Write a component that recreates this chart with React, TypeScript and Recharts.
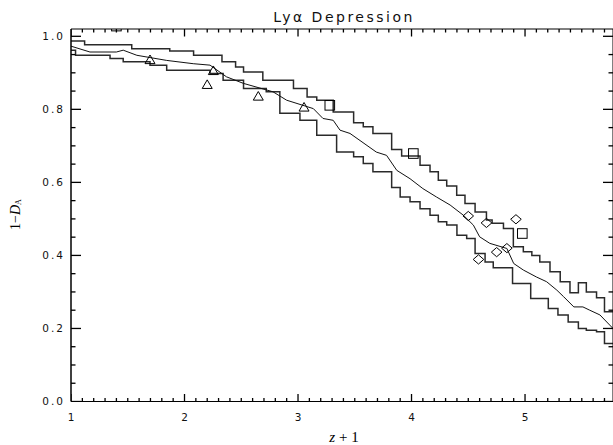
import React from 'react';
import { ComposedChart, Line, Scatter, XAxis, YAxis } from 'recharts';

// ---------- data ----------
const upperBand: [number, number][] = [
  [1.0, 0.987], [1.12, 0.977], [1.535, 0.966], [1.87, 0.96], [2.08, 0.948], [2.33, 0.93],
  [2.45, 0.916], [2.52, 0.902], [2.69, 0.88], [2.96, 0.857], [3.08, 0.834], [3.165, 0.825],
  [3.31, 0.793], [3.49, 0.763], [3.575, 0.752], [3.66, 0.734], [3.825, 0.69], [3.913, 0.672],
  [4.075, 0.647], [4.163, 0.629], [4.236, 0.606], [4.31, 0.59], [4.398, 0.565], [4.471, 0.542],
  [4.56, 0.519], [4.66, 0.497], [4.71, 0.488], [4.81, 0.474], [4.897, 0.424], [4.985, 0.41],
  [5.06, 0.4], [5.13, 0.382], [5.22, 0.355], [5.31, 0.328], [5.396, 0.298], [5.47, 0.325],
  [5.54, 0.3], [5.63, 0.284], [5.7, 0.246], [5.775, 0.246],
];

const lowerBand: [number, number][] = [
  [1.0, 0.962], [1.04, 0.948], [1.344, 0.939], [1.46, 0.93], [1.696, 0.921], [1.843, 0.907],
  [2.225, 0.898], [2.34, 0.88], [2.52, 0.857], [2.72, 0.848], [2.84, 0.789], [3.017, 0.77],
  [3.165, 0.729], [3.34, 0.683], [3.49, 0.67], [3.575, 0.652], [3.66, 0.629], [3.825, 0.586],
  [3.9, 0.56], [3.987, 0.547], [4.075, 0.528], [4.163, 0.51], [4.236, 0.492], [4.31, 0.483],
  [4.4, 0.455], [4.486, 0.446], [4.56, 0.405], [4.648, 0.382], [4.72, 0.366], [4.89, 0.323],
  [5.05, 0.282], [5.205, 0.255], [5.29, 0.237], [5.38, 0.218], [5.47, 0.2], [5.54, 0.195],
  [5.63, 0.191], [5.7, 0.159], [5.775, 0.159],
];

const meanCurve: [number, number][] = [
  [1.0, 0.973], [1.167, 0.957], [1.4, 0.957], [1.46, 0.962], [1.58, 0.948], [1.843, 0.934],
  [2.077, 0.925], [2.225, 0.921], [2.37, 0.889], [2.52, 0.871], [2.78, 0.848], [2.9, 0.825],
  [3.135, 0.802], [3.22, 0.775], [3.31, 0.77], [3.37, 0.743], [3.458, 0.734], [3.69, 0.683],
  [3.78, 0.674], [3.87, 0.633], [3.987, 0.61], [4.1, 0.583], [4.22, 0.56], [4.34, 0.538],
  [4.457, 0.51], [4.545, 0.483], [4.6, 0.451], [4.69, 0.433], [4.84, 0.419], [4.9, 0.378],
  [4.985, 0.36], [5.1, 0.341], [5.19, 0.328], [5.28, 0.305], [5.34, 0.287], [5.43, 0.259],
  [5.51, 0.259], [5.57, 0.25], [5.66, 0.237], [5.775, 0.2],
];

const triangles: [number, number][] = [
  [1.696, 0.937], [2.2, 0.869], [2.254, 0.907], [2.65, 0.837], [3.053, 0.807],
];
const squares: [number, number][] = [
  [1.4, 1.028], [3.28, 0.811], [4.016, 0.679], [4.976, 0.46],
];
const diamonds: [number, number][] = [
  [4.5, 0.508], [4.59, 0.389], [4.66, 0.489], [4.75, 0.409], [4.84, 0.42], [4.92, 0.499],
];

const xMajorLabels = [1, 2, 3, 4, 5];
const yMajorLabels = [0, 0.2, 0.4, 0.6, 0.8, 1.0];
const X_DOMAIN: [number, number] = [1, 5.775];
const Y_DOMAIN: [number, number] = [0, 1.02];

// tick positions (major + minor)
const xTicks: number[] = [];
for (let i = 0; i <= 47; i++) xTicks.push(Math.round((1 + i * 0.1) * 10) / 10);
const yTicks: number[] = [];
for (let i = 0; i <= 20; i++) yTicks.push(Math.round(i * 0.05 * 100) / 100);

const isXMajor = (v: number) => xMajorLabels.some((m) => Math.abs(m - v) < 1e-6);
const isYMajor = (v: number) => yMajorLabels.some((m) => Math.abs(m - v) < 1e-6);
const xMinorTicks = xTicks.filter((v) => !isXMajor(v));
const yMinorTicks = yTicks.filter((v) => !isYMajor(v));

const toPts = (arr: [number, number][]) => arr.map(([x, y]) => ({ x, y }));
const onBottom = (vals: number[]) => vals.map((v) => ({ x: v, y: Y_DOMAIN[0] }));
const onTop = (vals: number[]) => vals.map((v) => ({ x: v, y: Y_DOMAIN[1] }));
const onLeft = (vals: number[]) => vals.map((v) => ({ x: X_DOMAIN[0], y: v }));
const onRight = (vals: number[]) => vals.map((v) => ({ x: X_DOMAIN[1], y: v }));

// ---------- styling ----------
const TICK_FONT = '"DejaVu Sans", sans-serif';
const X_MAJOR = 7.5, X_MINOR = 3.5, Y_MAJOR = 10, Y_MINOR = 4.5;
const TW = 1.3;
const BOTTOM_MARGIN = 12;
const LEFT_MARGIN = 6;

const BottomLabel = (props: any) => {
  const { x, y, payload } = props;
  const v = payload.value;
  if (!isXMajor(v)) return <g />;
  return (
    <text x={x + 1} y={y - BOTTOM_MARGIN + 19.5} textAnchor="middle" fontFamily={TICK_FONT} fontSize={10.5} letterSpacing={2} fill="#111">
      {String(v)}
    </text>
  );
};

const LeftLabel = (props: any) => {
  const { x, y, payload } = props;
  const v = payload.value;
  if (!isYMajor(v)) return <g />;
  return (
    <text x={x} y={y} dy="0.36em" textAnchor="end" fontFamily={TICK_FONT} fontSize={10.5} letterSpacing={2} fill="#111">
      {v.toFixed(1)}
    </text>
  );
};

// inward tick marks drawn at scale-placed anchor points
const upMark = (len: number) => (p: any) => (
  <rect x={p.cx - TW / 2} y={p.cy - len} width={TW} height={len} fill="#000" />
);
const downMark = (len: number) => (p: any) => (
  <rect x={p.cx - TW / 2} y={p.cy} width={TW} height={len} fill="#000" />
);
const rightwardMark = (len: number) => (p: any) => (
  <rect x={p.cx} y={p.cy - TW / 2} width={len} height={TW} fill="#000" />
);
const leftwardMark = (len: number) => (p: any) => (
  <rect x={p.cx - len} y={p.cy - TW / 2} width={len} height={TW} fill="#000" />
);

const Triangle = (p: any) => (
  <polygon points={`${p.cx - 5},${p.cy + 4.3} ${p.cx},${p.cy - 4.3} ${p.cx + 5},${p.cy + 4.3}`} fill="none" stroke="#000" strokeWidth={1} />
);
const Square = (p: any) => (
  <rect x={p.cx - 4.8} y={p.cy - 4.8} width={9.6} height={9.6} fill="none" stroke="#000" strokeWidth={1} />
);
const Diamond = (p: any) => (
  <polygon points={`${p.cx - 5.3},${p.cy} ${p.cx},${p.cy - 4.6} ${p.cx + 5.3},${p.cy} ${p.cx},${p.cy + 4.6}`} fill="none" stroke="#000" strokeWidth={1} />
);

const common = { xAxisId: 'b', yAxisId: 'l', isAnimationActive: false } as const;

export default function App() {
  return (
    <div style={{ position: 'absolute', left: 0, top: 0, width: 613, height: 445, background: '#fff' }}>
      <ComposedChart width={614} height={445} margin={{ top: 28, right: 0, bottom: 13.5, left: 0 }}>
        <XAxis
          xAxisId="b" type="number" dataKey="x" domain={X_DOMAIN} allowDataOverflow
          ticks={xTicks} interval={0} tickSize={0} tickMargin={BOTTOM_MARGIN} height={30}
          tick={<BottomLabel />} tickLine={false} axisLine={{ stroke: '#000', strokeWidth: 1.2 }}
        />
        <XAxis
          xAxisId="t" orientation="top" type="number" dataKey="x" domain={X_DOMAIN} allowDataOverflow
          ticks={xMajorLabels} tickSize={0} height={1} tick={false} tickLine={false}
          axisLine={{ stroke: '#000', strokeWidth: 1 }}
        />
        <YAxis
          yAxisId="l" type="number" dataKey="y" domain={Y_DOMAIN} allowDataOverflow
          ticks={yTicks} interval={0} tickSize={0} tickMargin={LEFT_MARGIN} width={71}
          tick={<LeftLabel />} tickLine={false} axisLine={{ stroke: '#000', strokeWidth: 1.5 }}
        />
        <YAxis
          yAxisId="r" orientation="right" type="number" dataKey="y" domain={Y_DOMAIN} allowDataOverflow
          ticks={yMajorLabels} tickSize={0} width={1} tick={false} tickLine={false}
          axisLine={{ stroke: '#000', strokeWidth: 1 }}
        />
        <Line {...common} data={toPts(upperBand)} dataKey="y" type="stepAfter" stroke="#2a2a2a" strokeWidth={1.5} dot={false} activeDot={false} />
        <Line {...common} data={toPts(lowerBand)} dataKey="y" type="stepAfter" stroke="#2a2a2a" strokeWidth={1.5} dot={false} activeDot={false} />
        <Line {...common} data={toPts(meanCurve)} dataKey="y" type="linear" stroke="#111" strokeWidth={1} dot={false} activeDot={false} />
        <Scatter {...common} data={toPts(triangles)} dataKey="y" shape={Triangle} />
        <Scatter {...common} data={toPts(squares)} dataKey="y" shape={Square} />
        <Scatter {...common} data={toPts(diamonds)} dataKey="y" shape={Diamond} />
        <Scatter {...common} data={onBottom(xMajorLabels)} dataKey="y" shape={upMark(X_MAJOR)} />
        <Scatter {...common} data={onBottom(xMinorTicks)} dataKey="y" shape={upMark(X_MINOR)} />
        <Scatter {...common} data={onTop(xMajorLabels)} dataKey="y" shape={downMark(X_MAJOR)} />
        <Scatter {...common} data={onTop(xMinorTicks)} dataKey="y" shape={downMark(X_MINOR)} />
        <Scatter {...common} data={onLeft(yMajorLabels)} dataKey="y" shape={rightwardMark(Y_MAJOR)} />
        <Scatter {...common} data={onLeft(yMinorTicks)} dataKey="y" shape={rightwardMark(Y_MINOR)} />
        <Scatter {...common} data={onRight(yMajorLabels)} dataKey="y" shape={leftwardMark(Y_MAJOR)} />
        <Scatter {...common} data={onRight(yMinorTicks)} dataKey="y" shape={leftwardMark(Y_MINOR)} />
      </ComposedChart>
      <svg width={613} height={445} style={{ position: 'absolute', left: 0, top: 0, pointerEvents: 'none' }}>
        <text x={344} y={22} textAnchor="middle" fontFamily={TICK_FONT} fontSize={14} letterSpacing={2.5} fill="#111">
          Lyα Depression
        </text>
        <text x={344} y={441.5} textAnchor="middle" fontFamily='"Liberation Serif", serif' fontSize={15} fill="#000">
          <tspan fontStyle="italic">z</tspan> + 1
        </text>
        <text transform="translate(20,214.5) rotate(-90)" textAnchor="middle" fontFamily='"Liberation Serif", serif' fontSize={14} fill="#000">
          1−<tspan fontStyle="italic">D</tspan><tspan fontSize={8} dy={1}>A</tspan>
        </text>
      </svg>
    </div>
  );
}
